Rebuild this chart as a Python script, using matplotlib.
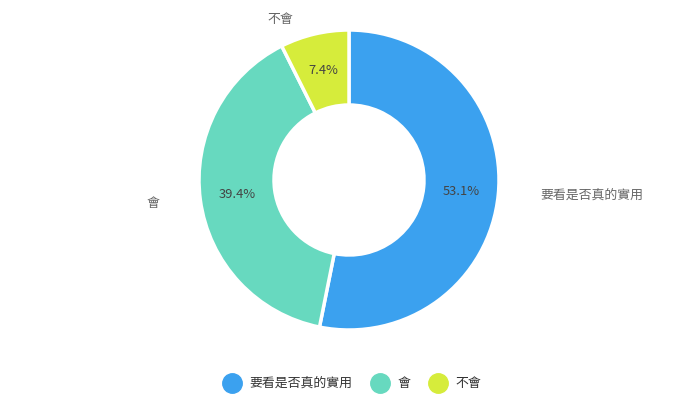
import matplotlib
matplotlib.use('Agg')
import matplotlib.pyplot as plt
from matplotlib.lines import Line2D

plt.rcParams['font.family'] = ['Noto Sans CJK TC', 'DejaVu Sans']

categories = ['要看是否真的實用', '會', '不會']
percents = [53.1, 39.4, 7.4]
colors = ['#3ba1ef', '#67d9bf', '#d6ec3b']

fig = plt.figure(figsize=(7, 3.96), dpi=100)
# pie area: 300x300 px box centred at (349, 180) from top-left
ax = fig.add_axes([199 / 700, 66 / 396, 300 / 700, 300 / 396])

wedges, texts, autotexts = ax.pie(
    percents, colors=colors, labels=categories, startangle=90, counterclock=False,
    radius=1.0, autopct='%.1f%%', pctdistance=0.75,
    wedgeprops=dict(width=0.5, edgecolor='white', linewidth=2.5, joinstyle='round'),
    textprops=dict(fontsize=9.3, color='#555555'))

for t, p in zip(autotexts, percents):
    t.set_text(f'{p:.1f}%')
    t.set_color('#444444')

# outside label placement (axes data units, radius = 1)
label_pos = [(1.62, -0.11), (-1.31, -0.16), (-0.46, 1.07)]
for t, pos in zip(texts, label_pos):
    t.set_position(pos)
    t.set_ha('center')
    t.set_va('center')
    t.set_color('#666666')
    t.set_clip_on(False)

ax.set_xlim(-1, 1)
ax.set_ylim(-1, 1)
ax.set_aspect('equal')
ax.axis('off')

handles = [Line2D([], [], marker='o', linestyle='none', markersize=14,
                  markerfacecolor=c, markeredgecolor=c) for c in colors]
fig.legend(handles, categories, loc='center', bbox_to_anchor=(0.5, 12 / 396),
           ncol=3, frameon=False, fontsize=9.3, handletextpad=0.3,
           columnspacing=1.2, labelcolor='#333333')

fig.savefig('out.png', dpi=100)
